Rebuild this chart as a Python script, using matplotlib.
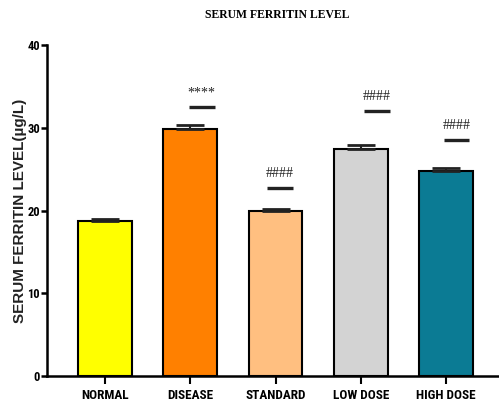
import matplotlib
matplotlib.use("Agg")
import matplotlib.pyplot as plt
import numpy as np

# serum ferritin per group (ug/L), mean and SEM
groups = ["NORMAL", "DISEASE", "STANDARD", "LOW DOSE", "HIGH DOSE"]
means = [18.7, 29.9, 20.0, 27.5, 24.85]
sems = [0.25, 0.5, 0.25, 0.5, 0.3]
colors = ["#FFFF00", "#FF8000", "#FFBF80", "#D3D3D3", "#0B7B94"]

# significance marks: group index, symbol, height of the marker line
sig_idx = [1, 2, 3, 4]
sig_text = ["****", "####", "####", "####"]
sig_level = [32.5, 22.7, 32.0, 28.5]

narrow = ["Roboto Condensed", "Fira Sans Condensed", "Liberation Sans"]

fig = plt.figure(figsize=(4.99, 4.05), dpi=100)
ax = fig.add_axes([0.094, 0.0716, 0.906, 0.8164])

x = np.arange(len(groups))
ax.bar(x, means, width=0.63, color=colors, edgecolor="black", linewidth=1.5, zorder=2)
ax.errorbar(x, means, yerr=[np.zeros(len(sems)), sems], fmt="none",
            ecolor="#222222", elinewidth=1.5, capsize=10, capthick=2, zorder=3)

shift = [0.135, 0.05, 0.19, 0.12]
for k, i in enumerate(sig_idx):
    cx = x[i] + shift[k]
    ax.plot([cx - 0.15, cx + 0.15], [sig_level[k], sig_level[k]],
            color="#222222", linewidth=2.4, solid_capstyle="butt", zorder=3)
    ax.text(cx, sig_level[k] + 1.0, sig_text[k], ha="center", va="bottom",
            fontsize=10, family="Liberation Serif", color="#222222")

ax.set_xlim(-0.68, 4.62)
ax.set_ylim(0, 40)
ax.set_yticks([0, 10, 20, 30, 40])
ax.set_xticks(x)

ax.set_xticklabels(groups, fontsize=9.5, fontweight="bold", family=narrow)
for lab in ax.get_yticklabels():
    lab.set_fontsize(9)
    lab.set_fontweight("bold")
    lab.set_family(narrow)

for side in ["top", "right"]:
    ax.spines[side].set_visible(False)
for side in ["left", "bottom"]:
    ax.spines[side].set_linewidth(1.8)
ax.tick_params(axis="y", length=4, width=1.8, pad=1)
ax.tick_params(axis="x", length=6, width=1.5, pad=3)

ax.set_ylabel("SERUM FERRITIN LEVEL(\u00b5g/L)", fontsize=11, fontweight="bold",
              family="Liberation Sans", color="#222222")
ax.yaxis.set_label_coords(-0.044, 0.5)
fig.text(0.555, 0.963, "SERUM FERRITIN LEVEL", ha="center", va="center",
         fontsize=8.5, fontweight="bold", family="Liberation Serif")

fig.savefig("out.png", dpi=100)
